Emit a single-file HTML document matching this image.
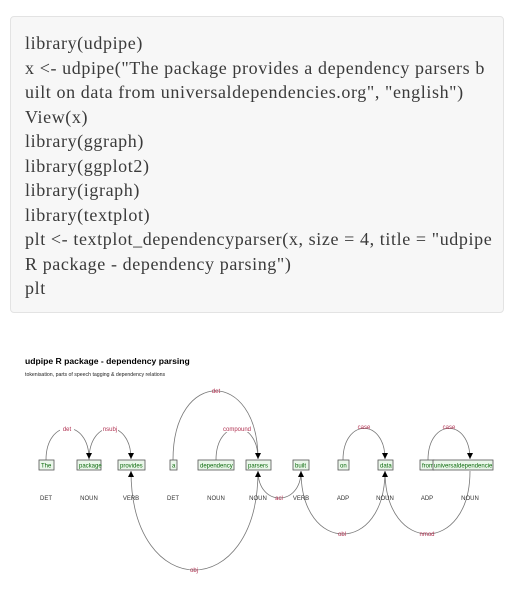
<!DOCTYPE html>
<html><head><meta charset="utf-8"><style>
html,body{margin:0;padding:0;background:#fff;width:529px;height:610px;overflow:hidden}
.code{position:absolute;left:10px;top:16px;width:494px;height:297px;background:#f7f7f7;border:1px solid #e3e3e3;border-radius:4px;box-sizing:border-box}
.code pre{margin:0;position:absolute;left:14px;top:14px;font-family:"Liberation Serif",serif;font-size:18px;line-height:24.5px;color:#3a3a3a;letter-spacing:0.6px;white-space:pre}
svg{position:absolute;left:0;top:0}
</style></head><body>
<div class="code"><pre>library(udpipe)
x &lt;- udpipe("The package provides a dependency parsers b
uilt on data from universaldependencies.org", "english")
View(x)
library(ggraph)
library(ggplot2)
library(igraph)
library(textplot)
plt &lt;- textplot_dependencyparser(x, size = 4, title = "udpipe
R package - dependency parsing")
plt</pre></div>
<svg width="529" height="610" viewBox="0 0 529 610" font-family="Liberation Sans, sans-serif">
<text x="25" y="364" font-size="8.6" font-weight="bold" fill="#000">udpipe R package - dependency parsing</text>
<text x="25" y="376" font-size="5.2" fill="#222">tokenisation, parts of speech tagging &amp; dependency relations</text>
<g fill="none" stroke="#777" stroke-width="0.8">
<path d="M46,460 C46,418 89,418 89,459"/>
<path d="M89,460 C89,418 131,418 131,459"/>
<path d="M173,460 C173,368 258,368 258,459"/>
<path d="M216,460 C216,418 258,418 258,459"/>
<path d="M343,460 C343,418 385,418 385,459"/>
<path d="M428,460 C428,418 470,418 470,459"/>
<path d="M258,471 C258,507 301,507 301,471"/>
<path d="M301,471 C301,555 385,555 385,471"/>
<path d="M385,471 C385,555 470,555 470,471"/>
<path d="M131,471 C131,603 258,603 258,471"/>
</g>
<g fill="#000">
<path d="M86,453 L92,453 L89,459z"/><path d="M128,453 L134,453 L131,459z"/>
<path d="M255,453 L261,453 L258,459z"/><path d="M382,453 L388,453 L385,459z"/>
<path d="M467,453 L473,453 L470,459z"/>
<path d="M128,477 L134,477 L131,471z"/><path d="M255,477 L261,477 L258,471z"/>
<path d="M298,477 L304,477 L301,471z"/><path d="M382,477 L388,477 L385,471z"/>
</g>
<g font-size="6" fill="#b03050" text-anchor="middle">
<rect x="60" y="426" width="14" height="6" fill="#fff"/><text x="67" y="431">det</text>
<rect x="102" y="426" width="16" height="6" fill="#fff"/><text x="110" y="431">nsubj</text>
<text x="216" y="393">det</text>
<rect x="222" y="426" width="30" height="6" fill="#fff"/><text x="237" y="431">compound</text>
<text x="364" y="429">case</text>
<text x="449" y="429">case</text>
<text x="279" y="500">acl</text>
<text x="342" y="536">obl</text>
<text x="427" y="536">nmod</text>
<text x="194" y="572">obj</text>
</g>
<g font-size="6" fill="#0a6a0a" stroke-width="0.8">
<rect x="39" y="460" width="15" height="10" fill="#eaf6ea" stroke="#555"/><text x="41" y="467.5">The</text>
<rect x="77" y="460" width="24" height="10" fill="#eaf6ea" stroke="#555"/><text x="79" y="467.5">package</text>
<rect x="118" y="460" width="27" height="10" fill="#eaf6ea" stroke="#555"/><text x="120" y="467.5">provides</text>
<rect x="170" y="460" width="7" height="10" fill="#eaf6ea" stroke="#555"/><text x="172" y="467.5">a</text>
<rect x="198" y="460" width="36" height="10" fill="#eaf6ea" stroke="#555"/><text x="200" y="467.5">dependency</text>
<rect x="246" y="460" width="25" height="10" fill="#eaf6ea" stroke="#555"/><text x="248" y="467.5">parsers</text>
<rect x="293" y="460" width="16" height="10" fill="#eaf6ea" stroke="#555"/><text x="295" y="467.5">built</text>
<rect x="338" y="460" width="11" height="10" fill="#eaf6ea" stroke="#555"/><text x="340" y="467.5">on</text>
<rect x="378" y="460" width="15" height="10" fill="#eaf6ea" stroke="#555"/><text x="380" y="467.5">data</text>
<rect x="420" y="460" width="14" height="10" fill="#eaf6ea" stroke="#555"/><text x="422" y="467.5">from</text>
<rect x="433" y="460" width="60" height="10" fill="#eaf6ea" stroke="#555"/><text x="434" y="467.5">universaldependencie</text>
</g>
<g font-size="6" fill="#333" text-anchor="middle">
<text x="46" y="500">DET</text><text x="89" y="500">NOUN</text><text x="131" y="500">VERB</text>
<text x="173" y="500">DET</text><text x="216" y="500">NOUN</text><text x="258" y="500">NOUN</text>
<text x="301" y="500">VERB</text><text x="343" y="500">ADP</text><text x="385" y="500">NOUN</text>
<text x="427" y="500">ADP</text><text x="470" y="500">NOUN</text>
</g>
</svg>
</body></html>
